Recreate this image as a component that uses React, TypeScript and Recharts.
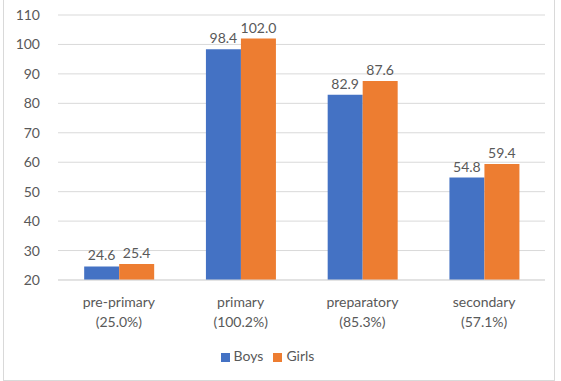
import React from 'react';
import {
  BarChart,
  Bar,
  XAxis,
  YAxis,
  CartesianGrid,
  Legend,
  LabelList
} from 'recharts';

const levels = ['pre-primary', 'primary', 'preparatory', 'secondary'];
const totals = ['(25.0%)', '(100.2%)', '(85.3%)', '(57.1%)'];
const boys = [24.6, 98.4, 82.9, 54.8];
const girls = [25.4, 102.0, 87.6, 59.4];
const yTicks = [20, 30, 40, 50, 60, 70, 80, 90, 100, 110];

const data = levels.map((level, i) => ({
  level,
  total: totals[i],
  Boys: boys[i],
  Girls: girls[i]
}));

const FONT = 'Lato, "Open Sans", sans-serif';
const TEXT = '#595959';
const GRID = '#d9d9d9';

// two-line category label: level name over its overall rate
function LevelTick({ x, y, payload, index }: any) {
  return (
    <g transform={`translate(${x},${y})`}>
      <text textAnchor="middle" fill={TEXT} fontSize={14} fontFamily={FONT}>
        <tspan x={0} dy={19}>{payload.value}</tspan>
        <tspan x={0} dy={20}>{totals[index]}</tspan>
      </text>
    </g>
  );
}

const fmt = (v: any) => Number(v).toFixed(1);

export default function App() {
  return (
    <div style={{ position: 'absolute', left: 0, top: 0, width: 561, height: 381, background: '#fff' }}>
      <div
        style={{
          position: 'absolute',
          left: 3,
          top: -1,
          width: 552,
          height: 382,
          border: '1px solid #d9d9d9',
          boxSizing: 'border-box'
        }}
      />
      <BarChart
        width={561}
        height={381}
        data={data}
        margin={{ top: 15, right: 16, left: 0, bottom: 10 }}
        barCategoryGap="21.5%"
        barGap={0}
      >
        <CartesianGrid vertical={false} stroke={GRID} />
        <XAxis
          dataKey="level"
          tick={<LevelTick />}
          tickLine={false}
          axisLine={{ stroke: GRID }}
          height={67}
          interval={0}
        />
        <YAxis
          domain={[20, 110]}
          ticks={yTicks}
          width={58}
          tickLine={false}
          axisLine={false}
          tickMargin={12}
          tick={{ fill: TEXT, fontSize: 14, fontFamily: FONT }}
        />
        <Legend
          verticalAlign="bottom"
          iconType="square"
          iconSize={9}
          height={24}
          wrapperStyle={{ fontFamily: FONT, fontSize: 14 }}
          formatter={(v: any) => <span style={{ color: TEXT }}>{v}</span>}
        />
        <Bar dataKey="Boys" fill="#4472C4" isAnimationActive={false}>
          <LabelList dataKey="Boys" position="top" offset={6} formatter={fmt}
            style={{ fill: TEXT, fontSize: 14, fontFamily: FONT }} />
        </Bar>
        <Bar dataKey="Girls" fill="#ED7D31" isAnimationActive={false}>
          <LabelList dataKey="Girls" position="top" offset={6} formatter={fmt}
            style={{ fill: TEXT, fontSize: 14, fontFamily: FONT }} />
        </Bar>
      </BarChart>
    </div>
  );
}
